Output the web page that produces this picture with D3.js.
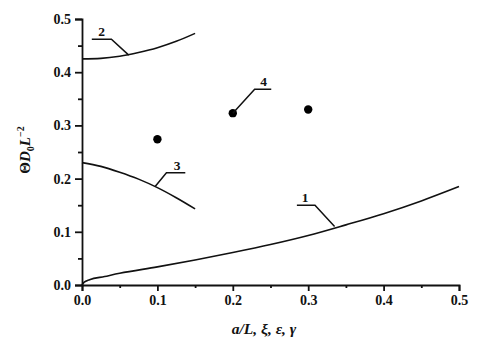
<!DOCTYPE html>
<html>
<head>
<meta charset="utf-8">
<script src="https://cdn.jsdelivr.net/npm/d3@7"></script>
<style>
  body { margin: 0; background: #fff; }
  svg { display: block; }
  text { font-family: "Liberation Serif", "Times New Roman", serif; fill: #111; }
</style>
</head>
<body>
<svg id="chart" width="500" height="349"></svg>
<script>
// Curve 1
const curve1X = [0, 0.002, 0.005, 0.01, 0.03, 0.05, 0.1, 0.15, 0.2, 0.25, 0.3, 0.35, 0.4, 0.45, 0.5];
const curve1Y = [0, 0.004, 0.007, 0.010, 0.016, 0.022, 0.034, 0.047, 0.061, 0.076, 0.093, 0.113, 0.134, 0.158, 0.185];
// Curve 2
const curve2X = [0, 0.025, 0.05, 0.075, 0.1, 0.125, 0.15];
const curve2Y = [0.425, 0.426, 0.430, 0.437, 0.446, 0.458, 0.473];
// Curve 3
const curve3X = [0, 0.025, 0.05, 0.075, 0.1, 0.125, 0.15];
const curve3Y = [0.230, 0.223, 0.212, 0.199, 0.183, 0.164, 0.143];
// Points 4
const pointsX = [0.1, 0.2, 0.3];
const pointsY = [0.274, 0.323, 0.330];

const xTicks = [0, 0.1, 0.2, 0.3, 0.4, 0.5];
const yTicks = [0, 0.1, 0.2, 0.3, 0.4, 0.5];
const minorTicks = [0.05, 0.15, 0.25, 0.35, 0.45];

const svg = d3.select("#chart");
const x = d3.scaleLinear().domain([0, 0.5]).range([82, 459]);
const y = d3.scaleLinear().domain([0, 0.5]).range([285, 19]);

svg.append("g").attr("transform", "translate(0,285)")
  .call(d3.axisBottom(x).tickValues(xTicks).tickFormat(d3.format(".1f")).tickSizeOuter(0).tickSize(6).tickPadding(4));
svg.append("g").attr("transform", "translate(0,285)")
  .call(d3.axisBottom(x).tickValues(minorTicks).tickFormat("").tickSizeOuter(0).tickSize(3))
  .select(".domain").remove();
svg.append("g").attr("transform", "translate(82,0)")
  .call(d3.axisLeft(y).tickValues(yTicks).tickFormat(d3.format(".1f")).tickSizeOuter(0).tickSize(7).tickPadding(4));
svg.append("g").attr("transform", "translate(82,0)")
  .call(d3.axisLeft(y).tickValues(minorTicks).tickFormat("").tickSizeOuter(0).tickSize(4))
  .select(".domain").remove();

svg.selectAll(".domain, .tick line").attr("stroke", "#111").attr("stroke-width", 1.8);
svg.selectAll(".tick text").attr("font-size", 14).attr("font-weight", "bold").attr("fill", "#111");

// Curves
const line = d3.line().x(d => x(d[0])).y(d => y(d[1])).curve(d3.curveMonotoneX);
const curves = [
  d3.zip(curve1X, curve1Y),
  d3.zip(curve2X, curve2Y),
  d3.zip(curve3X, curve3Y)
];
svg.selectAll("path.curve").data(curves).join("path")
  .attr("class", "curve")
  .attr("d", line)
  .attr("fill", "none").attr("stroke", "#111").attr("stroke-width", 1.6);

// Points
svg.selectAll("circle.pt").data(d3.zip(pointsX, pointsY)).join("circle")
  .attr("class", "pt")
  .attr("cx", d => x(d[0])).attr("cy", d => y(d[1])).attr("r", 4.2)
  .attr("fill", "#000");

// Leader lines with curve numbers: anchor on data, elbow, end of shelf, label position
const leaders = [
  { label: "1", ax: 0.335, ay: 0.110, ex: 0.309, ey: 0.150, hx: 0.285, tx: 0.296 },
  { label: "2", ax: 0.062, ay: 0.432, ex: 0.039, ey: 0.462, hx: 0.013, tx: 0.026 },
  { label: "3", ax: 0.097, ay: 0.185, ex: 0.112, ey: 0.211, hx: 0.137, tx: 0.126 },
  { label: "4", ax: 0.2, ay: 0.323, ex: 0.229, ey: 0.368, hx: 0.251, tx: 0.241 }
];
leaders.forEach(l => {
  svg.append("polyline")
    .attr("points", [[x(l.ax), y(l.ay)], [x(l.ex), y(l.ey)], [x(l.hx), y(l.ey)]].map(p => p.join(",")).join(" "))
    .attr("fill", "none").attr("stroke", "#111").attr("stroke-width", 1.5);
  svg.append("text")
    .attr("x", x(l.tx)).attr("y", y(l.ey) - 3)
    .attr("text-anchor", "middle")
    .attr("font-size", 13.5).attr("font-weight", "bold")
    .text(l.label);
});

// Axis titles
svg.append("text").attr("x", 264).attr("y", 334)
  .attr("text-anchor", "middle").attr("font-size", 15.5).attr("font-weight", "bold").attr("font-style", "italic")
  .text("a/L, ξ, ε, γ");

const yt = svg.append("text")
  .attr("transform", "translate(30,150) rotate(-90)")
  .attr("text-anchor", "middle").attr("font-size", 15).attr("font-weight", "bold");
yt.append("tspan").text("Θ");
yt.append("tspan").attr("font-style", "italic").text("D");
yt.append("tspan").attr("font-size", 10).attr("dy", 4).text("0");
yt.append("tspan").attr("font-style", "italic").attr("dy", -4).text("L");
yt.append("tspan").attr("font-size", 10).attr("dy", -6).text("−2");
</script>
</body>
</html>
